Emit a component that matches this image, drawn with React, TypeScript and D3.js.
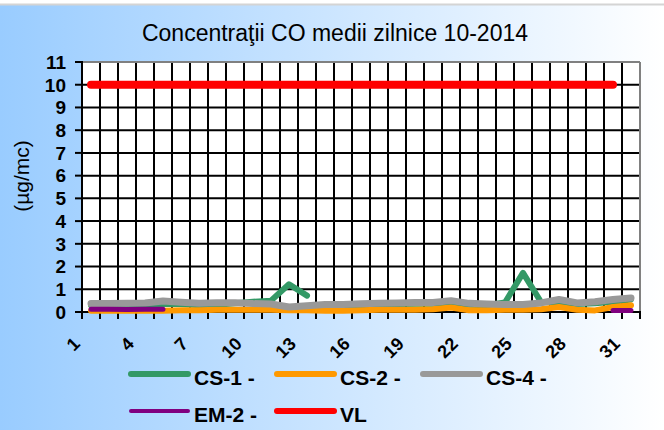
import React from "react";
import * as d3 from "d3";

const days: number[] = d3.range(1, 32);
const xTickLabels: string[] = ["1", "4", "7", "10", "13", "16", "19", "22", "25", "28", "31"];
const yTicks: number[] = [0, 1, 2, 3, 4, 5, 6, 7, 8, 9, 10, 11];

const cs1: (number | null)[] = [0.3, 0.3, 0.3, 0.32, 0.35, 0.35, 0.3, 0.32, 0.38, 0.45, 0.5, 1.22, 0.72, null, 0.25, 0.3, 0.32, 0.35, 0.36, 0.36, 0.42, 0.32, 0.3, 0.42, 1.72, 0.44, 0.42, 0.35, 0.38, 0.45, 0.55];
const cs2: (number | null)[] = [0.05, 0.05, 0.05, 0.05, 0.06, 0.08, 0.08, 0.1, 0.1, 0.1, 0.1, 0.08, 0.08, 0.06, 0.05, 0.08, 0.1, 0.1, 0.1, 0.12, 0.2, 0.08, 0.08, 0.1, 0.1, 0.12, 0.22, 0.1, 0.07, 0.22, 0.3];
const cs4: (number | null)[] = [0.37, 0.37, 0.38, 0.4, 0.48, 0.43, 0.38, 0.41, 0.41, 0.37, 0.35, 0.22, 0.28, 0.33, 0.33, 0.36, 0.38, 0.4, 0.42, 0.42, 0.5, 0.38, 0.35, 0.33, 0.33, 0.4, 0.55, 0.4, 0.45, 0.55, 0.62];
const em2: (number | null)[] = [0.12, 0.12, 0.11, 0.12, 0.12, null, null, null, null, null, null, null, null, null, null, null, null, null, null, null, null, null, null, null, null, null, null, null, null, 0.07, 0.07];
const vl: (number | null)[] = [10, 10, 10, 10, 10, 10, 10, 10, 10, 10, 10, 10, 10, 10, 10, 10, 10, 10, 10, 10, 10, 10, 10, 10, 10, 10, 10, 10, 10, 10, null];

const seriesNames: string[] = ["CS-1 -", "CS-2 -", "CS-4 -", "EM-2 -", "VL"];
const seriesColors: string[] = ["#339966", "#FF9900", "#999999", "#800080", "#FF0000"];
const seriesWidths: number[] = [6, 6, 7, 5, 8];
const seriesData = [cs1, cs2, cs4, em2, vl];

export default function App() {
  const W = 664, H = 430;
  const x0 = 82, x1 = 640, yTop = 62, yBot = 312;
  const x = d3.scaleBand<number>().domain(days).range([x0, x1]).padding(0);
  const bw = x.bandwidth();
  const cx = (d: number) => (x(d) as number) + bw / 2;
  const y = d3.scaleLinear().domain([0, 11]).range([yBot, yTop]);
  const line = d3
    .line<number | null>()
    .defined((v) => v !== null)
    .x((_, i) => cx(days[i]))
    .y((v) => y(v as number));

  const boundaries = d3.range(0, days.length + 1).map((k) => x0 + k * bw);
  const legendPos = [
    { lx: 131, ly: 374 },
    { lx: 277, ly: 374 },
    { lx: 423, ly: 374 },
    { lx: 131, ly: 411 },
    { lx: 277, ly: 411 },
  ];
  const legendWidths = [6, 6, 6, 4, 6];

  return (
    <svg width={W} height={H} style={{ position: "absolute", left: 0, top: 0 }} fontFamily="'Liberation Sans', Arial, sans-serif">
      <defs>
        <linearGradient id="bg" x1="0" y1="0" x2="1" y2="0">
          <stop offset="0" stopColor="#99CCFF" />
          <stop offset="1" stopColor="#FFFFFF" />
        </linearGradient>
      </defs>
      <rect x={0} y={0} width={W} height={H} fill="#ffffff" />
      <rect x={0} y={5} width={W} height={H - 5} fill="url(#bg)" />
      <line x1={0} x2={W} y1={4.5} y2={4.5} stroke="#d4d4d4" strokeWidth={2} />
      <text x={335} y={41} textAnchor="middle" fontSize={23} fill="#000">
        Concentraţii CO medii zilnice 10-2014
      </text>
      <text transform="translate(23,176) rotate(-90)" textAnchor="middle" dominantBaseline="middle" fontSize={21} fill="#000">
        (µg/mc)
      </text>
      <rect x={x0} y={yTop} width={x1 - x0} height={yBot - yTop} fill="#ffffff" />
      {boundaries.slice(1, -1).map((bx, i) => (
        <line key={"vg" + i} x1={bx} x2={bx} y1={yTop} y2={yBot} stroke="#000" strokeWidth={2} />
      ))}
      {yTicks.slice(1, -1).map((t) => (
        <line key={"hg" + t} x1={x0} x2={x1} y1={y(t)} y2={y(t)} stroke="#000" strokeWidth={2} />
      ))}
      <line x1={x0} x2={x1} y1={yTop} y2={yTop} stroke="#808080" strokeWidth={2} />
      <line x1={x1} x2={x1} y1={yTop} y2={yBot} stroke="#808080" strokeWidth={2} />
      {yTicks.map((t) => (
        <g key={"yt" + t}>
          <line x1={x0 - 7} x2={x0} y1={y(t)} y2={y(t)} stroke="#000" strokeWidth={2} />
          <text x={66} y={y(t)} dy="0.36em" textAnchor="end" fontSize={19} fontWeight="bold" fill="#000">
            {t}
          </text>
        </g>
      ))}
      {boundaries.map((bx, i) => (
        <line key={"xt" + i} x1={bx} x2={bx} y1={yBot} y2={yBot + 7} stroke="#000" strokeWidth={2} />
      ))}
      <line x1={x0} x2={x0} y1={yTop - 1} y2={yBot} stroke="#000" strokeWidth={2} />
      <line x1={x0 - 1} x2={x1 + 1} y1={yBot} y2={yBot} stroke="#000" strokeWidth={2} />
      {xTickLabels.map((lab) => {
        const d = +lab;
        return (
          <text key={"xl" + lab} transform={`translate(${cx(d) - 10},${345}) rotate(-45)`} textAnchor="end" fontSize={18} fontWeight="bold" fill="#000">
            {lab}
          </text>
        );
      })}
      {seriesData.map((s, i) => (
        <path key={"s" + i} d={line(s) || ""} fill="none" stroke={seriesColors[i]} strokeWidth={seriesWidths[i]} strokeLinejoin="round" strokeLinecap="round" />
      ))}
      {seriesNames.map((n, i) => (
        <g key={"lg" + i}>
          <line x1={legendPos[i].lx} x2={legendPos[i].lx + 57} y1={legendPos[i].ly} y2={legendPos[i].ly} stroke={seriesColors[i]} strokeWidth={legendWidths[i]} strokeLinecap="round" />
          <text x={legendPos[i].lx + 63} y={legendPos[i].ly + 11} fontSize={21} fontWeight="bold" fill="#000">
            {n}
          </text>
        </g>
      ))}
    </svg>
  );
}
